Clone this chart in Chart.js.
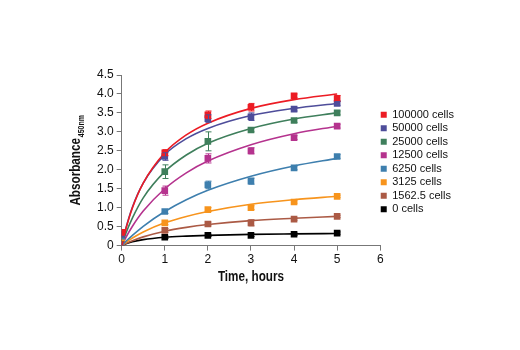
<!DOCTYPE html>
<html><head><meta charset="utf-8">
<script src="https://cdn.jsdelivr.net/npm/chart.js@4/dist/chart.umd.min.js"></script>
<style>html,body{margin:0;padding:0;background:#fff}#wrap{width:520px;height:350px}</style>
</head><body><div id="wrap"><canvas id="c" width="520" height="350"></canvas></div>
<script>
const hours = [0, 1, 2, 3, 4, 5];
const seriesNames = ['100000 cells','50000 cells','25000 cells','12500 cells','6250 cells','3125 cells','1562.5 cells','0 cells'];
const seriesColors = ['#ec1c24','#4e4d9a','#3f7f5c','#b5338e','#3e7fae','#f7941d','#ab5a45','#000000'];
const measured = [
  [0.35, 2.45, 3.45, 3.65, 3.95, 3.88],
  [0.30, 2.35, 3.35, 3.40, 3.60, 3.75],
  [0.30, 1.95, 2.75, 3.05, 3.30, 3.50],
  [0.30, 1.45, 2.30, 2.50, 2.85, 3.15],
  [0.25, 0.90, 1.60, 1.70, 2.05, 2.35],
  [0.20, 0.60, 0.95, 1.00, 1.15, 1.30],
  [0.20, 0.40, 0.57, 0.60, 0.70, 0.77],
  [0.20, 0.22, 0.27, 0.27, 0.30, 0.33]
];
const errors = [
  [0, 0.08, 0.10, 0.10, 0.05, 0.08],
  [0, 0.10, 0.10, 0.10, 0.05, 0.05],
  [0, 0.18, 0.25, 0.05, 0.05, 0.05],
  [0, 0.12, 0.12, 0.08, 0.05, 0.05],
  [0, 0.05, 0.10, 0.08, 0.05, 0.05],
  [0, 0.05, 0.05, 0.05, 0.03, 0.03],
  [0, 0.05, 0.05, 0.08, 0.03, 0.03],
  [0, 0.03, 0.03, 0.03, 0.03, 0.03]
];
const fitHours = [0, 0.1, 0.25, 0.5, 1, 1.5, 2, 3, 4, 5];
const fitCurves = [
  [0, 0.45, 1.00, 1.65, 2.45, 2.92, 3.23, 3.62, 3.85, 4.00],
  [0, 0.47, 1.02, 1.65, 2.40, 2.82, 3.09, 3.43, 3.62, 3.75],
  [0, 0.33, 0.73, 1.26, 1.95, 2.39, 2.70, 3.09, 3.34, 3.50],
  [0, 0.22, 0.51, 0.91, 1.50, 1.92, 2.23, 2.66, 2.95, 3.15],
  [0, 0.115, 0.27, 0.51, 0.90, 1.21, 1.46, 1.83, 2.10, 2.30],
  [0, 0.085, 0.20, 0.36, 0.60, 0.77, 0.90, 1.09, 1.21, 1.30],
  [0, 0.057, 0.13, 0.23, 0.38, 0.48, 0.555, 0.66, 0.72, 0.77],
  [0, 0.049, 0.10, 0.158, 0.22, 0.25, 0.27, 0.297, 0.31, 0.32]
];
const xTicks = [0, 1, 2, 3, 4, 5, 6];
const yTicks = [0, 0.5, 1, 1.5, 2, 2.5, 3, 3.5, 4, 4.5];
const xTitleText = 'Time, hours';
const yTitleText = 'Absorbance';
const yTitleSub = '450nm';

const FONT = "'Liberation Sans', Arial, sans-serif";

const datasets = [];
seriesNames.forEach((name, i) => {
  datasets.push({
    label: name, kind: 'marker', errIdx: i,
    data: hours.map((h, j) => ({x: h, y: measured[i][j]})),
    showLine: false, pointStyle: 'rect', pointRadius: 4.7,
    backgroundColor: seriesColors[i], borderColor: seriesColors[i], borderWidth: 0,
    order: 1
  });
});
seriesNames.forEach((name, i) => {
  datasets.push({
    label: name + ' fit', kind: 'fit',
    data: fitHours.map((h, j) => ({x: h, y: fitCurves[i][j]})),
    showLine: true, pointRadius: 0, borderColor: seriesColors[i], borderWidth: 1.6,
    cubicInterpolationMode: 'monotone', fill: false,
    order: 2
  });
});

const errorBars = {
  id: 'errorBars',
  afterDatasetsDraw(chart) {
    const ctx = chart.ctx, xs = chart.scales.x, ys = chart.scales.y;
    chart.data.datasets.forEach(ds => {
      if (ds.kind !== 'marker') return;
      const e = errors[ds.errIdx];
      ctx.save();
      ctx.strokeStyle = ds.borderColor; ctx.lineWidth = 1;
      ds.data.forEach((p, j) => {
        if (!e[j]) return;
        const px = Math.round(xs.getPixelForValue(p.x)) + 0.5;
        const y1 = ys.getPixelForValue(p.y + e[j]), y2 = ys.getPixelForValue(p.y - e[j]);
        ctx.beginPath();
        ctx.moveTo(px, y1); ctx.lineTo(px, y2);
        ctx.moveTo(px - 3, y1); ctx.lineTo(px + 3, y1);
        ctx.moveTo(px - 3, y2); ctx.lineTo(px + 3, y2);
        ctx.stroke();
      });
      ctx.restore();
    });
  }
};

const legendShift = {
  id: 'legendShift',
  afterLayout(chart) {
    const lg = chart.legend;
    if (!lg) return;
    lg.top -= 10; lg.bottom -= 10;
    lg.left -= 2; lg.right -= 2;
  }
};

const axisTitles = {
  id: 'axisTitles',
  afterDraw(chart) {
    const ctx = chart.ctx, ca = chart.chartArea;
    const squeeze = 0.78;
    ctx.save();
    ctx.fillStyle = '#111';
    ctx.textBaseline = 'alphabetic';
    ctx.translate(80, (ca.top + ca.bottom) / 2);
    ctx.rotate(-Math.PI / 2);
    ctx.scale(squeeze, 1);
    ctx.font = "bold 15px " + FONT;
    const w1 = ctx.measureText(yTitleText).width;
    ctx.font = "bold 9px " + FONT;
    const w2 = ctx.measureText(yTitleSub).width;
    const start = -(w1 + w2 + 1) / 2;
    ctx.font = "bold 15px " + FONT;
    ctx.fillText(yTitleText, start, 0);
    ctx.font = "bold 9px " + FONT;
    ctx.fillText(yTitleSub, start + w1 + 1, 4);
    ctx.restore();
    ctx.save();
    ctx.fillStyle = '#111';
    ctx.textBaseline = 'alphabetic';
    ctx.translate((ca.left + ca.right) / 2, 281);
    ctx.scale(squeeze, 1);
    ctx.font = "bold 15px " + FONT;
    ctx.textAlign = 'center';
    ctx.fillText(xTitleText, 0, 0);
    ctx.restore();
  }
};

new Chart(document.getElementById('c'), {
  type: 'scatter',
  data: { datasets },
  options: {
    responsive: false, animation: false,
    layout: { padding: { left: 94, right: 54, top: 75, bottom: 81 } },
    plugins: {
      tooltip: { enabled: false },
      legend: {
        position: 'right', align: 'center',
        labels: {
          filter: item => !item.text.endsWith(' fit'),
          boxWidth: 6, boxHeight: 6, padding: 2.5,
          color: '#111', font: { family: FONT, size: 11 }
        }
      }
    },
    scales: {
      x: {
        type: 'linear', min: 0, max: 6,
        afterBuildTicks: s => { s.ticks = xTicks.map(v => ({value: v})); },
        ticks: { color: '#111', font: { family: FONT, size: 12 }, padding: 2 },
        grid: { drawOnChartArea: false, drawTicks: true, tickLength: 5, color: '#777' },
        border: { color: '#777' }
      },
      y: {
        type: 'linear', min: 0, max: 4.5,
        afterBuildTicks: s => { s.ticks = yTicks.map(v => ({value: v})); },
        ticks: { color: '#111', font: { family: FONT, size: 12 }, padding: 3,
          callback: v => v === 0 ? '0' : Number(v).toFixed(1) },
        grid: { drawOnChartArea: false, drawTicks: true, tickLength: 5, color: '#777' },
        border: { color: '#777' }
      }
    }
  },
  plugins: [errorBars, legendShift, axisTitles]
});
</script>
</body></html>
